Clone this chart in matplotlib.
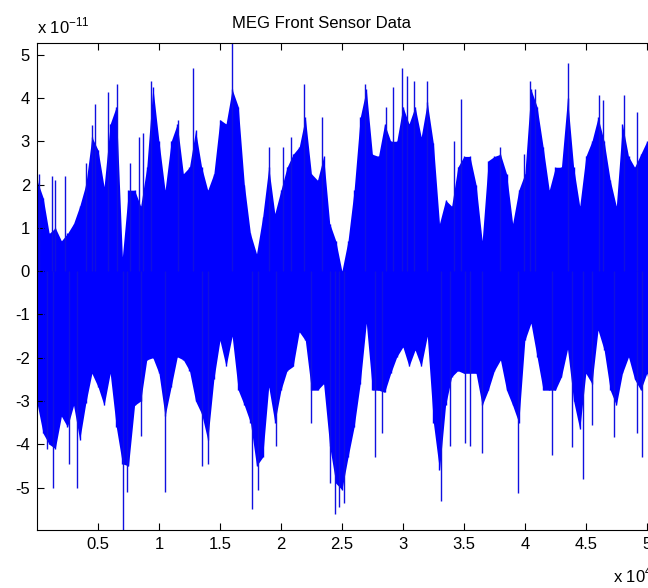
import numpy as np
import matplotlib
matplotlib.use('Agg')
import matplotlib.pyplot as plt

plt.rcParams['font.family'] = ['Liberation Sans', 'DejaVu Sans']
plt.rcParams['axes.unicode_minus'] = False

# sample index (x 10^4) of each envelope reading
env_x = [0.00, 0.05, 0.10, 0.15, 0.20, 0.25, 0.30, 0.35, 0.40, 0.45,
         0.50, 0.55, 0.60, 0.65, 0.70, 0.75, 0.80, 0.85, 0.90, 0.95,
         1.00, 1.05, 1.10, 1.15, 1.20, 1.25, 1.30, 1.35, 1.40, 1.45,
         1.50, 1.55, 1.60, 1.65, 1.70, 1.75, 1.80, 1.85, 1.90, 1.95,
         2.00, 2.05, 2.10, 2.15, 2.20, 2.25, 2.30, 2.35, 2.40, 2.45,
         2.50, 2.55, 2.60, 2.65, 2.70, 2.75, 2.80, 2.85, 2.90, 2.95,
         3.00, 3.05, 3.10, 3.15, 3.20, 3.25, 3.30, 3.35, 3.40, 3.45,
         3.50, 3.55, 3.60, 3.65, 3.70, 3.75, 3.80, 3.85, 3.90, 3.95,
         4.00, 4.05, 4.10, 4.15, 4.20, 4.25, 4.30, 4.35, 4.40, 4.45,
         4.50, 4.55, 4.60, 4.65, 4.70, 4.75, 4.80, 4.85, 4.90, 4.95,
         5.00, 5.05, 5.10]

# upper / lower edge of the dense signal band (x 10^-11)
env_hi = [2.1, 1.7, 0.87, 1.0, 0.7, 0.87, 1.1, 1.5, 2.0, 3.1,
          2.8, 1.95, 3.4, 3.8, 0.33, 1.87, 1.87, 1.5, 2.4, 4.25,
          3.0, 1.87, 3.0, 3.4, 2.25, 2.4, 3.25, 2.4, 1.87, 2.25,
          3.5, 3.4, 4.2, 3.8, 2.0, 0.87, 0.4, 1.25, 2.4, 1.33,
          1.87, 2.4, 2.7, 2.87, 3.55, 2.25, 2.1, 2.65, 1.1, 0.7,
          0.0, 0.7, 1.87, 3.55, 4.2, 2.7, 2.65, 3.4, 3.0, 3.0,
          3.8, 3.4, 3.8, 3.1, 3.9, 2.95, 1.1, 1.64, 1.5, 2.4,
          2.65, 2.65, 2.0, 0.7, 2.55, 2.65, 2.7, 2.25, 1.1, 1.87,
          2.25, 4.2, 3.8, 2.87, 1.87, 2.4, 2.4, 4.0, 2.4, 1.5,
          2.65, 3.0, 3.55, 3.0, 2.1, 1.5, 3.4, 2.65, 2.4, 2.7,
          3.0, 2.8, 2.6]
env_lo = [-3.05, -3.75, -4.0, -4.1, -3.35, -3.6, -3.1, -3.9, -3.05, -2.36,
          -2.67, -3.1, -2.36, -3.6, -4.45, -4.5, -3.1, -3.0, -2.05, -2.0,
          -2.36, -3.35, -2.67, -1.98, -2.05, -2.3, -3.0, -3.3, -3.9, -2.5,
          -1.6, -2.2, -1.5, -2.75, -3.1, -3.5, -4.5, -4.3, -2.67, -3.5,
          -2.75, -2.3, -2.2, -1.4, -1.6, -2.75, -2.75, -2.6, -4.05, -4.9,
          -5.05, -4.3, -3.6, -2.6, -1.2, -2.75, -2.75, -2.8, -2.36, -1.98,
          -1.75, -2.2, -1.82, -2.2, -1.5, -3.5, -4.6, -3.1, -2.44, -2.3,
          -2.36, -2.36, -2.36, -3.1, -2.75, -2.3, -2.05, -2.75, -3.1, -3.5,
          -1.6, -1.2, -1.98, -2.75, -2.75, -2.75, -2.44, -1.8, -3.0, -3.65,
          -2.36, -2.6, -1.36, -1.82, -2.75, -3.1, -2.36, -1.98, -2.5, -2.75,
          -2.36, -3.0, -2.9]

# isolated spikes poking out of the band
spike_x = [0.02, 0.12, 0.15, 0.23, 0.40, 0.45, 0.475, 0.58, 0.656, 0.765,
           0.833, 0.87, 0.935, 1.16, 1.28, 1.60, 1.90, 2.02, 2.08, 2.19,
           2.34, 2.69, 2.86, 2.92, 2.99, 3.03, 3.09, 3.20, 3.42, 3.475,
           3.80, 3.99, 4.04, 4.08, 4.35, 4.61, 4.64, 4.81, 4.92,
           0.08, 0.13, 0.26, 0.33, 0.705, 0.74, 0.85, 1.05, 1.35, 1.40,
           1.76, 1.81, 1.96, 2.25, 2.40, 2.44, 2.48, 2.52, 2.77, 2.83,
           3.31, 3.385, 3.51, 3.55, 3.65, 3.945, 4.22, 4.39, 4.475, 4.55,
           4.73, 4.92, 4.96]
spike_y = [2.25, 2.2, 2.1, 2.2, 2.5, 3.37, 3.87, 4.13, 4.33, 2.5,
           3.1, 3.18, 4.4, 3.5, 4.7, 5.3, 2.87, 2.87, 3.1, 4.33,
           3.55, 4.33, 3.8, 4.25, 4.7, 4.5, 4.4, 4.4, 3.0, 3.97,
           2.87, 2.7, 4.4, 4.2, 4.8, 4.06, 3.95, 4.06, 3.67,
           -4.1, -5.0, -4.45, -5.0, -6.1, -5.1, -3.8, -5.1, -4.5, -4.45,
           -5.5, -5.05, -4.05, -3.5, -4.9, -5.6, -5.45, -5.35, -4.3, -3.75,
           -5.3, -4.05, -3.98, -4.05, -4.2, -5.13, -4.25, -4.06, -4.8, -3.55,
           -3.83, -3.75, -4.3]

x_ticks = [0.5, 1, 1.5, 2, 2.5, 3, 3.5, 4, 4.5, 5]
x_tick_labels = ['0.5', '1', '1.5', '2', '2.5', '3', '3.5', '4', '4.5', '5']
y_ticks = [-5, -4, -3, -2, -1, 0, 1, 2, 3, 4, 5]

W, H = 648, 588
fig = plt.figure(figsize=(W / 100, H / 100), dpi=100)
ax = fig.add_axes([37 / W, (H - 530) / H, (659 - 37) / W, (530 - 43) / H])

ex = np.array(env_x) * 1e4
lo = np.array(env_lo) * 1e-11
hi = np.array(env_hi) * 1e-11
ax.fill_between(ex, lo, hi, color='#0000ff', lw=0)
ax.vlines(ex, lo, hi, color='#0000ff', lw=1.0)
sx = np.array(spike_x) * 1e4
sy = np.array(spike_y) * 1e-11
ax.vlines(sx, np.zeros_like(sy), sy, color='#1010e0', lw=1.0)

ax.set_xlim(0, 5.1e4)
ax.set_ylim(-5.98e-11, 5.27e-11)
ax.set_xticks([t * 1e4 for t in x_ticks])
ax.set_xticklabels(x_tick_labels)
ax.set_yticks([t * 1e-11 for t in y_ticks])
ax.set_yticklabels([str(t) for t in y_ticks])
ax.tick_params(direction='in', length=5, width=0.8, top=True, right=True,
               labelsize=12, pad=5)
for s in ax.spines.values():
    s.set_linewidth(0.8)

fig.text(321 / W, 1 - 28 / H, 'MEG Front Sensor Data', fontsize=12,
         ha='center', va='baseline')
fig.text(37 / W, 1 - 33 / H, r'x 10$^{\mathregular{-11}}$', fontsize=12,
         ha='left', va='baseline')
fig.text(613 / W, 1 - 582 / H, r'x 10$^{\mathregular{4}}$', fontsize=12,
         ha='left', va='baseline')

fig.savefig('out.png', dpi=100)
